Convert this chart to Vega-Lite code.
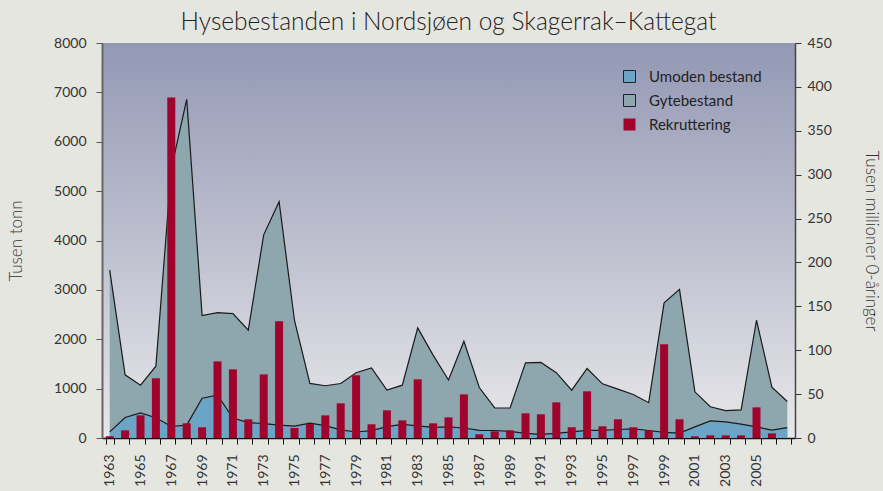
{
  "$schema": "https://vega.github.io/schema/vega-lite/v6.json",
  "width": 693,
  "height": 395,
  "autosize": "none",
  "padding": {"left": 102, "top": 43, "right": 88, "bottom": 53},
  "background": "#e6e6e1",
  "title": {
    "text": "Hysebestanden i Nordsjøen og Skagerrak–Kattegat",
    "font": "Lato",
    "fontWeight": 300,
    "fontSize": 24.5,
    "color": "#222222",
    "anchor": "middle",
    "offset": 1
  },
  "config": {
    "view": {
      "stroke": null,
      "fill": {
        "gradient": "linear",
        "x1": 0, "y1": 0, "x2": 0, "y2": 1,
        "stops": [
          {"offset": 0, "color": "#9398b4"},
          {"offset": 0.45, "color": "#b9bbcc"},
          {"offset": 1, "color": "#e8e8ea"}
        ]
      }
    },
    "font": "Lato",
    "axis": {
      "labelFont": "Lato",
      "labelFontSize": 14,
      "labelColor": "#333333",
      "titleFont": "Lato",
      "titleFontWeight": 300,
      "titleFontSize": 17,
      "titleColor": "#333333",
      "grid": false
    }
  },
  "data": {
    "values": [
      {"year": 1963, "umoden": 125, "gyte": 3400, "rekr": 2.0},
      {"year": 1964, "umoden": 415, "gyte": 1280, "rekr": 8.7},
      {"year": 1965, "umoden": 510, "gyte": 1070, "rekr": 25.8},
      {"year": 1966, "umoden": 410, "gyte": 1455, "rekr": 68},
      {"year": 1967, "umoden": 233, "gyte": 5450, "rekr": 388},
      {"year": 1968, "umoden": 260, "gyte": 6860, "rekr": 16.7},
      {"year": 1969, "umoden": 805, "gyte": 2480, "rekr": 12.2},
      {"year": 1970, "umoden": 868, "gyte": 2540, "rekr": 87.3},
      {"year": 1971, "umoden": 405, "gyte": 2520, "rekr": 78.2},
      {"year": 1972, "umoden": 310, "gyte": 2185, "rekr": 21.3},
      {"year": 1973, "umoden": 293, "gyte": 4115, "rekr": 72.5},
      {"year": 1974, "umoden": 260, "gyte": 4785, "rekr": 133},
      {"year": 1975, "umoden": 240, "gyte": 2380, "rekr": 11.4},
      {"year": 1976, "umoden": 300, "gyte": 1105, "rekr": 15.9},
      {"year": 1977, "umoden": 250, "gyte": 1058, "rekr": 25.8},
      {"year": 1978, "umoden": 165, "gyte": 1103, "rekr": 39.5},
      {"year": 1979, "umoden": 122, "gyte": 1323, "rekr": 71.4},
      {"year": 1980, "umoden": 150, "gyte": 1420, "rekr": 15.6},
      {"year": 1981, "umoden": 230, "gyte": 970, "rekr": 31.5},
      {"year": 1982, "umoden": 275, "gyte": 1070, "rekr": 20.1},
      {"year": 1983, "umoden": 245, "gyte": 2230, "rekr": 66.8},
      {"year": 1984, "umoden": 215, "gyte": 1678, "rekr": 16.7},
      {"year": 1985, "umoden": 225, "gyte": 1175, "rekr": 23.5},
      {"year": 1986, "umoden": 203, "gyte": 1960, "rekr": 49.7},
      {"year": 1987, "umoden": 155, "gyte": 1022, "rekr": 4.2},
      {"year": 1988, "umoden": 152, "gyte": 608, "rekr": 7.6},
      {"year": 1989, "umoden": 133, "gyte": 608, "rekr": 8.7},
      {"year": 1990, "umoden": 95, "gyte": 1522, "rekr": 28.1},
      {"year": 1991, "umoden": 75, "gyte": 1530, "rekr": 27.0},
      {"year": 1992, "umoden": 95, "gyte": 1323, "rekr": 40.6},
      {"year": 1993, "umoden": 125, "gyte": 968, "rekr": 12.2},
      {"year": 1994, "umoden": 155, "gyte": 1408, "rekr": 53.2},
      {"year": 1995, "umoden": 155, "gyte": 1097, "rekr": 13.3},
      {"year": 1996, "umoden": 172, "gyte": 990, "rekr": 21.3},
      {"year": 1997, "umoden": 185, "gyte": 880, "rekr": 12.2},
      {"year": 1998, "umoden": 152, "gyte": 715, "rekr": 8.7},
      {"year": 1999, "umoden": 115, "gyte": 2737, "rekr": 106.7},
      {"year": 2000, "umoden": 100, "gyte": 3011, "rekr": 21.3},
      {"year": 2001, "umoden": 226, "gyte": 935, "rekr": 1.9},
      {"year": 2002, "umoden": 345, "gyte": 632, "rekr": 3.0},
      {"year": 2003, "umoden": 328, "gyte": 554, "rekr": 3.0},
      {"year": 2004, "umoden": 280, "gyte": 570, "rekr": 3.0},
      {"year": 2005, "umoden": 226, "gyte": 2385, "rekr": 34.9},
      {"year": 2006, "umoden": 158, "gyte": 1030, "rekr": 5.3},
      {"year": 2007, "umoden": 209, "gyte": 740, "rekr": null}
    ]
  },
  "layer": [
    {
      "layer": [
        {
          "mark": {"type": "area", "opacity": 1},
          "encoding": {
            "x": {
              "field": "year", "type": "ordinal", "bandPosition": 0.5,
              "scale": {"type": "band", "paddingInner": 0.48, "paddingOuter": 0.24},
              "axis": {
                "title": null,
                "labelAngle": 270,
                "labelExpr": "datum.value % 2 == 1 && datum.value <= 2005 ? datum.label : ''",
                "tickBand": "extent",
                "tickSize": 6,
                "tickColor": "#111111",
                "domainColor": "#111111",
                "domainWidth": 1.5,
                "labelPadding": 10,
                "labelFontSize": 14
              }
            },
            "y": {
              "field": "gyte", "type": "quantitative", "stack": null,
              "scale": {"domain": [0, 8000]},
              "axis": {
                "title": "Tusen tonn",
                "values": [0, 1000, 2000, 3000, 4000, 5000, 6000, 7000, 8000],
                "format": "d",
                "tickSize": 6,
                "tickColor": "#555555",
                "domainColor": "#666666",
                "domainWidth": 2,
                "labelPadding": 10,
                "titlePadding": 28
              }
            },
            "color": {"datum": "Gytebestand"}
          }
        },
        {
          "mark": {"type": "line", "color": "#1a1a1a", "strokeWidth": 1.2},
          "encoding": {
            "x": {"field": "year", "type": "ordinal", "bandPosition": 0.5},
            "y": {"field": "gyte", "type": "quantitative", "axis": {"title": "Tusen tonn"}}
          }
        },
        {
          "mark": {"type": "area", "opacity": 1},
          "encoding": {
            "x": {"field": "year", "type": "ordinal", "bandPosition": 0.5},
            "y": {"field": "umoden", "type": "quantitative", "stack": null, "axis": {"title": "Tusen tonn"}},
            "color": {"datum": "Umoden bestand"}
          }
        },
        {
          "mark": {"type": "line", "color": "#1a1a1a", "strokeWidth": 1.2},
          "encoding": {
            "x": {"field": "year", "type": "ordinal", "bandPosition": 0.5},
            "y": {"field": "umoden", "type": "quantitative", "axis": {"title": "Tusen tonn"}}
          }
        }
      ]
    },
    {
      "mark": {"type": "bar"},
      "encoding": {
        "x": {"field": "year", "type": "ordinal"},
        "y": {
          "field": "rekr", "type": "quantitative",
          "scale": {"domain": [0, 450]},
          "axis": {
            "orient": "right",
            "title": "Tusen millioner 0-åringer",
            "values": [0, 50, 100, 150, 200, 250, 300, 350, 400, 450],
            "tickSize": 6,
            "tickColor": "#333333",
            "domainColor": "#444444",
            "domainWidth": 1.5,
            "labelPadding": 6,
            "titlePadding": 30
          }
        },
        "color": {
          "datum": "Rekruttering",
          "scale": {
            "domain": ["Umoden bestand", "Gytebestand", "Rekruttering"],
            "range": ["#6ca4c6", "#8ea7ae", "#a0042c"]
          },
          "legend": {
            "title": null,
            "orient": "none",
            "legendX": 520,
            "legendY": 26,
            "padding": 0,
            "symbolType": "square",
            "symbolSize": 144,
            "symbolOpacity": 1,
            "labelFont": "Lato",
            "labelFontSize": 15,
            "labelColor": "#222222",
            "labelOffset": 12,
            "rowPadding": 7,
            "encode": {
              "symbols": {
                "update": {
                  "stroke": {"signal": "datum.label === 'Rekruttering' ? 'transparent' : '#222222'"},
                  "strokeWidth": {"value": 1}
                }
              }
            }
          }
        }
      }
    }
  ],
  "resolve": {"scale": {"y": "independent"}, "axis": {"y": "independent"}}
}
